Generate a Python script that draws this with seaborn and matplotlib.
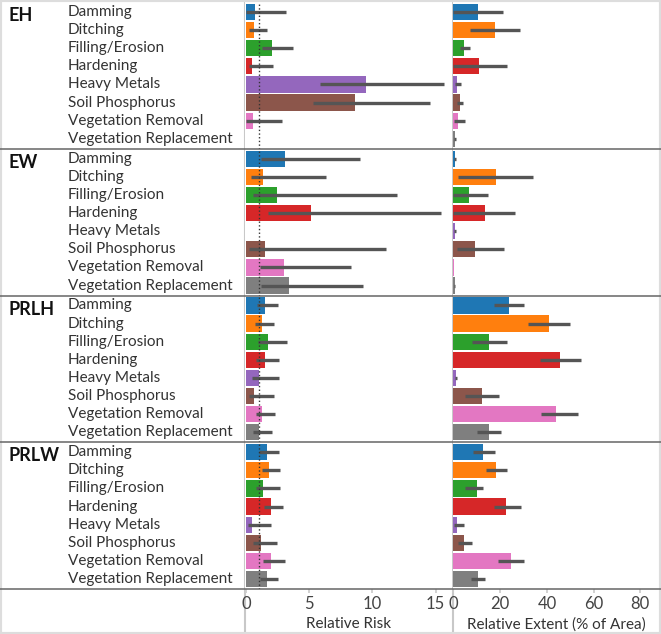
import numpy as np
import pandas as pd
import matplotlib.pyplot as plt
from matplotlib.lines import Line2D
from matplotlib.patches import Rectangle
from matplotlib.transforms import blended_transform_factory
import seaborn as sns

sns.set_theme(style="white")
plt.rcParams['font.family'] = ['Lato', 'DejaVu Sans']

# --- DATA ---
groups = ["EH", "EW", "PRLH", "PRLW"]
stressors = ["Damming", "Ditching", "Filling/Erosion", "Hardening", "Heavy Metals",
             "Soil Phosphorus", "Vegetation Removal", "Vegetation Replacement"]
palette = sns.color_palette("tab10", 8)

# relative risk: estimate, lower, upper
eh_risk = [0.72, 0.58, 2.05, 0.48, 9.48, 8.63, 0.53, np.nan]
eh_risk_lo = [0.0, 0.18, 1.25, 0.24, 5.82, 5.26, 0.0, np.nan]
eh_risk_hi = [3.16, 1.62, 3.67, 2.13, 15.7, 14.56, 2.82, np.nan]
ew_risk = [3.05, 1.35, 2.47, 5.13, np.nan, 1.49, 3.0, 3.35]
ew_risk_lo = [1.17, 0.35, 0.53, 1.7, np.nan, 0.18, 1.12, 1.2]
ew_risk_hi = [8.98, 6.3, 11.98, 15.4, np.nan, 11.05, 8.31, 9.27]
prlh_risk = [1.46, 1.22, 1.7, 1.46, 1.04, 0.58, 1.25, 1.04]
prlh_risk_lo = [0.85, 0.66, 0.9, 0.77, 0.42, 0.21, 0.74, 0.53]
prlh_risk_hi = [2.52, 2.18, 3.21, 2.63, 2.6, 2.18, 2.31, 2.07]
prlw_risk = [1.65, 1.81, 1.35, 1.99, 0.42, 1.17, 1.97, 1.65]
prlw_risk_lo = [1.04, 1.27, 0.8, 1.38, 0.1, 0.5, 1.33, 1.12]
prlw_risk_hi = [2.6, 2.69, 2.65, 2.95, 1.94, 2.47, 3.05, 2.49]

# relative extent (% of area): estimate, lower, upper
eh_extent = [10.6, 17.8, 4.6, 11.1, 1.6, 2.9, 1.9, 0.7]
eh_extent_lo = [0.0, 7.0, 2.7, 0.0, 0.6, 1.6, 0.4, 0.3]
eh_extent_hi = [21.4, 28.7, 7.0, 23.0, 3.4, 4.1, 5.1, 0.9]
ew_extent = [0.7, 18.3, 6.7, 13.7, 0.7, 9.1, 0.3, 0.5]
ew_extent_lo = [0.4, 2.1, 0.0, 0.0, 0.4, 1.3, 0.1, 0.2]
ew_extent_hi = [0.9, 33.9, 14.8, 26.5, 0.9, 21.8, 0.4, 0.7]
prlh_extent = [23.7, 40.9, 15.4, 45.5, 1.0, 12.3, 43.9, 15.1]
prlh_extent_lo = [17.5, 32.1, 8.1, 37.2, 0.5, 4.8, 37.5, 10.1]
prlh_extent_hi = [30.4, 50.1, 23.0, 54.6, 1.5, 19.5, 53.5, 20.2]
prlw_extent = [12.7, 18.3, 10.0, 22.7, 1.7, 4.7, 24.7, 10.6]
prlw_extent_lo = [8.3, 13.8, 4.8, 17.5, 0.1, 2.0, 19.0, 7.3]
prlw_extent_hi = [17.7, 22.8, 12.8, 29.1, 4.6, 7.8, 30.1, 13.7]

risk = [(eh_risk, eh_risk_lo, eh_risk_hi), (ew_risk, ew_risk_lo, ew_risk_hi),
        (prlh_risk, prlh_risk_lo, prlh_risk_hi), (prlw_risk, prlw_risk_lo, prlw_risk_hi)]
extent = [(eh_extent, eh_extent_lo, eh_extent_hi), (ew_extent, ew_extent_lo, ew_extent_hi),
          (prlh_extent, prlh_extent_lo, prlh_extent_hi), (prlw_extent, prlw_extent_lo, prlw_extent_hi)]

# --- LAYOUT (pixels of a 661x634 canvas) ---
W, H = 661, 634
fig = plt.figure(figsize=(W / 100, H / 100), dpi=100)
top, bottom = 2, 589
gh = (bottom - top) / 4
col_rr = (245, 452)
col_re = (453, 659)
text_col = "#333333"
err_col = "#555555"


def draw_panel(ax, vals, lo, hi, xlim):
    df = pd.DataFrame({"stressor": stressors, "value": vals})
    sns.barplot(data=df, x="value", y="stressor", hue="stressor", order=stressors,
                hue_order=stressors, palette=palette, orient="h", width=0.9,
                errorbar=None, legend=False, saturation=1, linewidth=0, ax=ax)
    ok = ~np.isnan(np.array(lo))
    ax.hlines(np.arange(8)[ok], np.array(lo)[ok], np.array(hi)[ok],
              color=err_col, lw=2.4, zorder=3)
    ax.set_xlim(*xlim)
    ax.set_ylim(7.55, -0.55)
    ax.set_xlabel("")
    ax.set_ylabel("")
    ax.set_yticks([])
    for s in ax.spines.values():
        s.set_visible(False)


axes_rr, axes_re = [], []
for i, g in enumerate(groups):
    y0 = 1 - (top + (i + 1) * gh) / H
    ax_rr = fig.add_axes([col_rr[0] / W, y0, (col_rr[1] - col_rr[0]) / W, gh / H])
    ax_re = fig.add_axes([col_re[0] / W, y0, (col_re[1] - col_re[0]) / W, gh / H])
    draw_panel(ax_rr, *risk[i], (-0.1, 16.3))
    draw_panel(ax_re, *extent[i], (-0.2, 88))
    ax_rr.axvline(1, color="#333333", ls=":", lw=1, zorder=4)
    for ax in (ax_rr, ax_re):
        ax.set_xticks([])

    # row labels in the left column
    tr = blended_transform_factory(fig.transFigure, ax_rr.transData)
    ax_rr.text(8 / W, 0.2, g, transform=tr, fontsize=13, fontweight="bold",
               color="#111111", va="center", ha="left")
    for j, s in enumerate(stressors):
        ax_rr.text(68 / W, j, s, transform=tr, fontsize=11, color=text_col,
                   va="center", ha="left")
    axes_rr.append(ax_rr)
    axes_re.append(ax_re)

# bottom axis ticks and labels
for ax, ticks, label in ((axes_rr[-1], [0, 5, 10, 15], "Relative Risk"),
                         (axes_re[-1], [0, 20, 40, 60, 80], "Relative Extent (% of Area)")):
    ax.set_xticks(ticks)
    ax.tick_params(axis="x", length=3, color="#cccccc", pad=2, labelsize=12,
                   labelcolor="#444444", bottom=True)
    ax.set_xlabel(label, fontsize=11, color=text_col, labelpad=4)

# separators and frame
for i in range(1, 5):
    y = 1 - (top + i * gh) / H
    fig.add_artist(Line2D([0, 1], [y, y], transform=fig.transFigure,
                          color="#666666", lw=1.1))
for x in (col_rr[0] - 0.5, col_rr[1] + 0.5):
    fig.add_artist(Line2D([x / W, x / W], [0, 1], transform=fig.transFigure,
                          color="#c8c8c8", lw=1.5, zorder=0))
fig.add_artist(Rectangle((0, 0), 1, 1, transform=fig.transFigure, fill=False,
                         edgecolor="#dddddd", lw=3))

fig.savefig("out.png", dpi=100)
plt.close(fig)
